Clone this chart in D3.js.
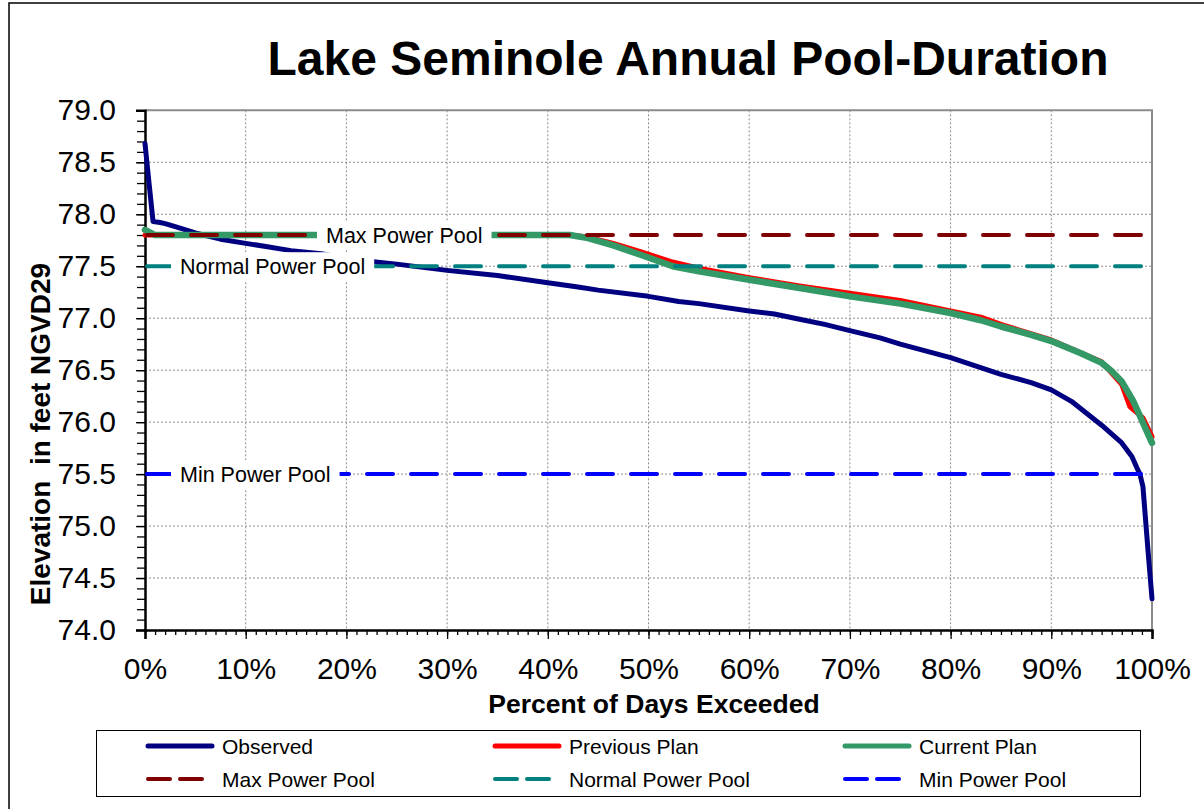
<!DOCTYPE html>
<html>
<head>
<meta charset="utf-8">
<script src="https://cdn.jsdelivr.net/npm/d3@7"></script>
<style>
  body { margin: 0; background: #fff; }
  svg { display: block; font-family: "Liberation Sans", Arial, sans-serif; }
</style>
</head>
<body>
<div id="chart"></div>
<script>
// percent of days exceeded vs elevation (ft)
var observed = [
  [0, 78.68], [0.4, 78.3], [0.8, 77.93], [1.5, 77.92], [2, 77.91], [3, 77.88],
  [5, 77.82], [7.5, 77.76], [10, 77.72], [12, 77.69], [14.5, 77.65], [17.5, 77.62],
  [20, 77.58], [22, 77.55], [25, 77.52], [30, 77.46], [35, 77.41], [40, 77.34],
  [43, 77.30], [45, 77.27], [50, 77.21], [53, 77.16], [55, 77.14], [60, 77.07],
  [62.5, 77.04], [65, 76.99], [67.5, 76.94], [70, 76.88], [73, 76.81], [75, 76.75],
  [80, 76.62], [85, 76.46], [88, 76.38], [90, 76.31], [92, 76.20], [95, 75.97],
  [97, 75.80], [98, 75.67], [98.5, 75.56], [98.8, 75.50], [99.1, 75.38], [99.6, 74.77],
  [100, 74.30]
];
var previousPlan = [
  [0, 77.80], [42.2, 77.80], [44, 77.78], [46.5, 77.72], [49.2, 77.64], [52.4, 77.54],
  [55, 77.48], [60, 77.39], [65, 77.31], [70, 77.24], [75, 77.17], [80, 77.07],
  [83, 77.01], [85, 76.94], [90, 76.79], [95, 76.58], [97, 76.36], [97.8, 76.15],
  [99.1, 76.04], [100, 75.86]
];
var currentPlan = [
  [0, 77.85], [1, 77.80], [42.2, 77.80], [44, 77.77], [46.5, 77.70], [49.2, 77.61],
  [52.4, 77.50], [55, 77.45], [57.5, 77.41], [60, 77.37], [65, 77.29], [70, 77.21],
  [75, 77.14], [80, 77.05], [83, 76.98], [85, 76.92], [88, 76.84], [90, 76.78],
  [93, 76.66], [95, 76.57], [96, 76.49], [97, 76.39], [98.1, 76.21], [100, 75.80]
];
var poolNames = ["Max Power Pool", "Normal Power Pool", "Min Power Pool"];
var poolLevels = [77.8, 77.5, 75.5];
var yTicks = d3.range(74, 79.01, 0.5);
var xTicks = d3.range(0, 101, 10);

var W = 1204, H = 809;
var svg = d3.select("#chart").append("svg").attr("width", W).attr("height", H);

// outer chart frame (right/bottom edges fall outside the picture)
svg.append("path").attr("d", "M9,809V3H1204").attr("fill", "none")
  .attr("stroke", "#000").attr("stroke-width", 1.5);

var x = d3.scaleLinear().domain([0, 100]).range([145, 1152]);
var y = d3.scaleLinear().domain([74, 79]).range([630, 110.3]);

// grid
var grid = svg.append("g").attr("stroke", "#8c8c8c").attr("stroke-width", 1)
  .attr("stroke-dasharray", "2,2");
grid.selectAll(".gx").data(xTicks.filter(function(d) { return d > 0 && d < 100; }))
  .enter().append("line")
  .attr("x1", function(d) { return x(d); }).attr("x2", function(d) { return x(d); })
  .attr("y1", y(79)).attr("y2", y(74));
grid.selectAll(".gy").data(yTicks.filter(function(d) { return d > 74 && d < 79; }))
  .enter().append("line")
  .attr("y1", function(d) { return y(d); }).attr("y2", function(d) { return y(d); })
  .attr("x1", x(0)).attr("x2", x(100));

// top + right border of plot area
svg.append("path")
  .attr("d", "M" + x(0) + "," + y(79) + "H" + x(100) + "V" + y(74))
  .attr("fill", "none").attr("stroke", "#8c8c8c").attr("stroke-width", 2);

// minor ticks
svg.append("g").attr("transform", "translate(0," + y(74) + ")")
  .call(d3.axisBottom(x).tickValues(d3.range(0, 101, 1)).tickSize(5).tickFormat(""))
  .call(function(g) { g.select(".domain").remove(); g.selectAll("line").attr("stroke", "#000").attr("stroke-width", 1.3); });
svg.append("g").attr("transform", "translate(" + x(0) + ",0)")
  .call(d3.axisLeft(y).tickValues(d3.range(74, 79.01, 0.1)).tickSize(8).tickFormat(""))
  .call(function(g) { g.select(".domain").remove(); g.selectAll("line").attr("stroke", "#000").attr("stroke-width", 1.3); });

// major axes
var xAxis = svg.append("g").attr("transform", "translate(0," + y(74) + ")")
  .call(d3.axisBottom(x).tickValues(xTicks).tickSize(9).tickPadding(19)
    .tickFormat(function(d) { return d + "%"; }));
var yAxis = svg.append("g").attr("transform", "translate(" + x(0) + ",0)")
  .call(d3.axisLeft(y).tickValues(yTicks).tickSize(9).tickPadding(20)
    .tickFormat(d3.format(".1f")));
[xAxis, yAxis].forEach(function(g) {
  g.select(".domain").attr("stroke", "#000").attr("stroke-width", 2.5);
  g.selectAll("line").attr("stroke", "#000").attr("stroke-width", 1.3);
  g.selectAll("text").attr("fill", "#000").style("font-size", "30px")
    .style("font-family", "Liberation Sans, Arial, sans-serif");
});

// series
var line = d3.line().x(function(d) { return x(d[0]); }).y(function(d) { return y(d[1]); });
var series = [
  { name: "Observed", data: observed, color: "#000080", width: 5 },
  { name: "Previous Plan", data: previousPlan, color: "#ff0000", width: 5 },
  { name: "Current Plan", data: currentPlan, color: "#339966", width: 6.5 }
];
series.forEach(function(s) {
  svg.append("path").datum(s.data).attr("d", line)
    .attr("fill", "none").attr("stroke", s.color).attr("stroke-width", s.width)
    .attr("stroke-linejoin", "round").attr("stroke-linecap", "round");
});

var poolColors = ["#800000", "#008080", "#0000ff"];
poolLevels.forEach(function(v, i) {
  svg.append("path").datum([[0, v], [100, v]]).attr("d", line)
    .attr("fill", "none").attr("stroke", poolColors[i]).attr("stroke-width", 4)
    .attr("stroke-dasharray", "26,18").attr("stroke-dashoffset", -2)
    .attr("stroke-linecap", "round");
});

// in-plot labels with white boxes
var labelX = [326, 180, 180];
poolLevels.forEach(function(v, i) {
  var g = svg.append("g");
  var t = g.append("text").attr("x", labelX[i]).attr("y", y(v) + 7.5)
    .style("font-size", "21.5px").attr("fill", "#000").text(poolNames[i]);
  var b = t.node().getBBox();
  g.insert("rect", "text").attr("x", b.x - 9).attr("y", y(v) - 14)
    .attr("width", b.width + 18).attr("height", 29).attr("fill", "#fff");
});

// titles
svg.append("text").attr("x", 688).attr("y", 75).attr("text-anchor", "middle")
  .style("font-size", "48px").style("font-weight", "bold")
  .text("Lake Seminole Annual Pool-Duration");
svg.append("text").attr("x", 654).attr("y", 713).attr("text-anchor", "middle")
  .style("font-size", "26.5px").style("font-weight", "bold")
  .text("Percent of Days Exceeded");
svg.append("text").attr("transform", "translate(50,434) rotate(-90)")
  .attr("text-anchor", "middle")
  .style("font-size", "28px").style("font-weight", "bold")
  .attr("xml:space", "preserve")
  .text("Elevation  in feet NGVD29");

// legend
var legendItems = [
  { name: "Observed", color: "#000080", dash: null, w: 5 },
  { name: "Previous Plan", color: "#ff0000", dash: null, w: 5 },
  { name: "Current Plan", color: "#339966", dash: null, w: 5 },
  { name: "Max Power Pool", color: "#800000", dash: "22,10", w: 4 },
  { name: "Normal Power Pool", color: "#008080", dash: "22,10", w: 4 },
  { name: "Min Power Pool", color: "#0000ff", dash: "22,10", w: 4 }
];
svg.append("rect").attr("x", 96.5).attr("y", 730.5).attr("width", 1044).attr("height", 66)
  .attr("fill", "#fff").attr("stroke", "#000").attr("stroke-width", 1);
var colX = [146, 493, 843], rowY = [746, 779];
legendItems.forEach(function(d, i) {
  var cx = colX[i % 3], cy = rowY[Math.floor(i / 3)];
  svg.append("line").attr("x1", cx + 2).attr("x2", cx + 66).attr("y1", cy).attr("y2", cy)
    .attr("stroke", d.color).attr("stroke-width", d.w).attr("stroke-linecap", "round")
    .attr("stroke-dasharray", d.dash);
  svg.append("text").attr("x", cx + 76).attr("y", cy + 7.5)
    .style("font-size", "21px").text(d.name);
});
</script>
</body>
</html>
